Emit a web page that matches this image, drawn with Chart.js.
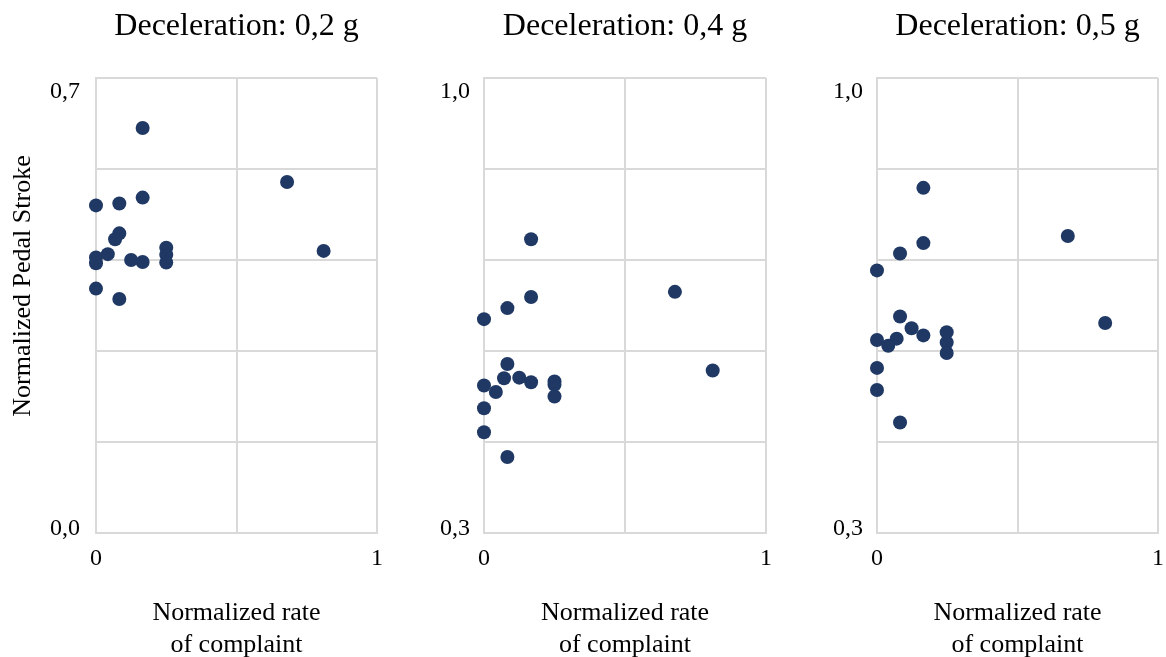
<!DOCTYPE html>
<html>
<head>
<meta charset="utf-8">
<title>Pedal stroke vs complaint rate</title>
<script src="https://cdn.jsdelivr.net/npm/chart.js@4.4.1/dist/chart.umd.min.js"></script>
<style>
  body { margin: 0; background: #fff; width: 1166px; height: 657px; overflow: hidden; position: relative; }
  canvas { position: absolute; top: 0; }
</style>
</head>
<body>
<canvas id="dec02" width="400" height="657" style="left:0px"></canvas>
<canvas id="dec04" width="390" height="657" style="left:400px"></canvas>
<canvas id="dec05" width="376" height="657" style="left:790px"></canvas>
<script>
// normalized rate of complaint (x) and normalized pedal stroke (y), one pair per deceleration
const rate02   = [0.166, 0.68, 0.166, 0, 0.083, 0.083, 0.068, 0.25, 0.25, 0.25, 0.81, 0, 0, 0.042, 0.125, 0.166, 0, 0.083];
const stroke02 = [0.623, 0.540, 0.516, 0.504, 0.507, 0.461, 0.452, 0.439, 0.428, 0.416, 0.434, 0.424, 0.415, 0.429, 0.420, 0.417, 0.376, 0.360];

const rate04   = [0.167, 0.677, 0.167, 0.083, 0, 0.811, 0.083, 0.071, 0.125, 0.167, 0, 0.042, 0.25, 0.25, 0.25, 0, 0, 0.083];
const stroke04 = [0.752, 0.671, 0.663, 0.646, 0.629, 0.550, 0.560, 0.538, 0.539, 0.532, 0.527, 0.517, 0.533, 0.528, 0.510, 0.492, 0.455, 0.417];

const rate05   = [0.165, 0.679, 0.165, 0.082, 0, 0.812, 0.082, 0.123, 0.165, 0.07, 0, 0.04, 0.248, 0.248, 0.248, 0, 0, 0.082];
const stroke05 = [0.831, 0.757, 0.746, 0.730, 0.704, 0.623, 0.633, 0.615, 0.604, 0.599, 0.597, 0.588, 0.609, 0.593, 0.577, 0.554, 0.520, 0.470];

const xTicks   = [0, 0.5, 1];
const yTicksLo = [0, 0.14, 0.28, 0.42, 0.56, 0.7];
const yTicksHi = [0.3, 0.44, 0.58, 0.72, 0.86, 1.0];

const SERIF = '"Liberation Serif", "Times New Roman", serif';
const GRID = '#d9d9d9';
const DOT = '#1f3864';

const fmt = v => v.toFixed(1).replace('.', ',');

function panel(id, title, rate, stroke, yTicks, axisWidth, labelPad, rightPad, yTitle) {
    const points = rate.map((x, i) => ({ x: x, y: stroke[i] }));

    return new Chart(document.getElementById(id), {
        type: 'scatter',
        data: {
            datasets: [{
                data: points,
                pointRadius: 7,
                pointHoverRadius: 7,
                backgroundColor: DOT,
                borderColor: DOT,
                borderWidth: 0,
                clip: false
            }]
        },
        options: {
            responsive: false,
            animation: false,
            layout: { padding: { left: 0, right: rightPad, top: 0, bottom: 0 } },
            plugins: {
                legend: { display: false },
                tooltip: { enabled: false },
                title: {
                    display: true,
                    text: title,
                    fullSize: false,
                    color: '#000',
                    font: { family: SERIF, size: 32, weight: 'normal', lineHeight: 1.2 },
                    padding: { top: 7, bottom: 32.6 }
                }
            },
            scales: {
                x: {
                    type: 'linear',
                    min: 0,
                    max: 1,
                    afterBuildTicks: s => { s.ticks = xTicks.map(v => ({ value: v })); },
                    afterFit: s => { s.height = 124; s.paddingLeft = 0; s.paddingRight = 0; },
                    grid: { color: GRID, lineWidth: 2, drawTicks: false },
                    border: { color: GRID, width: 2 },
                    ticks: {
                        padding: 11,
                        color: '#000',
                        autoSkip: false,
                        maxRotation: 0,
                        font: { family: SERIF, size: 24, lineHeight: 1.2 },
                        callback: v => (v === 0 || v === 1) ? String(v) : ''
                    },
                    title: {
                        display: true,
                        text: ['Normalized rate', 'of complaint'],
                        color: '#000',
                        font: { family: SERIF, size: 26, lineHeight: 1.23 },
                        padding: { top: 0, bottom: -4 }
                    }
                },
                y: {
                    type: 'linear',
                    min: yTicks[0],
                    max: yTicks[yTicks.length - 1],
                    afterBuildTicks: s => { s.ticks = yTicks.map(v => ({ value: v })); },
                    afterFit: s => { s.width = axisWidth; s.paddingTop = 0; s.paddingBottom = 0; },
                    grid: { color: GRID, lineWidth: 2, drawTicks: false },
                    border: { color: GRID, width: 2 },
                    ticks: {
                        padding: labelPad,
                        color: '#000',
                        autoSkip: false,
                        // end labels sit a little inside the axis range
                        font: ctx => ({ family: SERIF, size: 24, lineHeight: ctx.index === 0 ? '8px' : '28px' }),
                        callback: (v, i, t) => {
                            if (i === 0) return [fmt(v), ''];
                            if (i === t.length - 1) return ['', fmt(v)];
                            return '';
                        }
                    },
                    title: {
                        display: !!yTitle,
                        text: yTitle || '',
                        color: '#000',
                        font: { family: SERIF, size: 26, lineHeight: 1.2 },
                        padding: { top: 8, bottom: 0 }
                    }
                }
            }
        }
    });
}

panel('dec02', 'Deceleration: 0,2 g', rate02, stroke02, yTicksLo, 96, 16, 23, '      Normalized Pedal Stroke');
panel('dec04', 'Deceleration: 0,4 g', rate04, stroke04, yTicksHi, 84, 14, 24, null);
panel('dec05', 'Deceleration: 0,5 g', rate05, stroke05, yTicksHi, 87, 14, 8, null);
</script>
</body>
</html>
